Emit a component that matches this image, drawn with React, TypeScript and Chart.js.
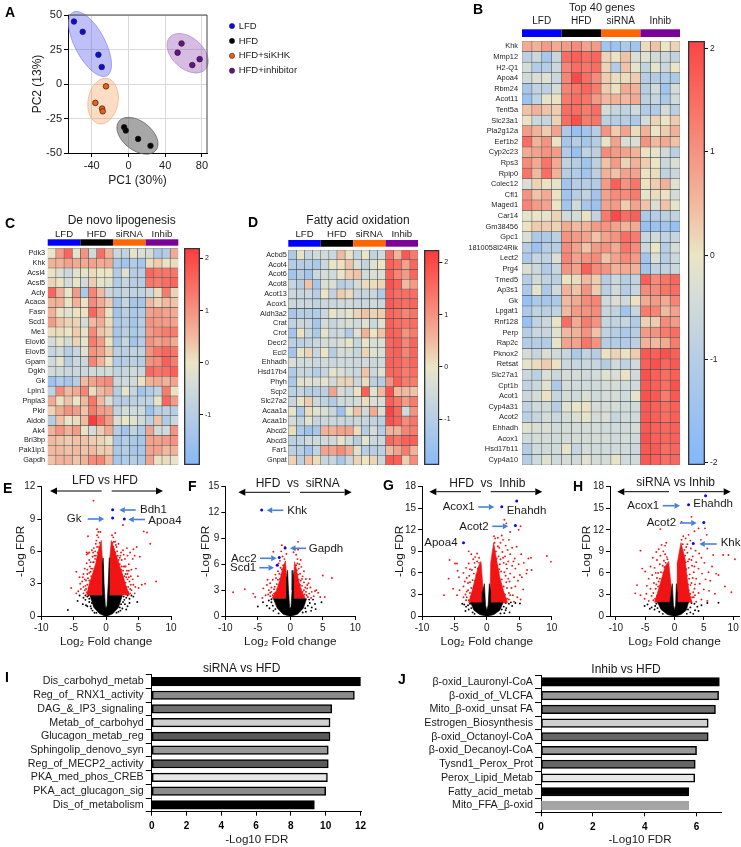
import React, { useEffect, useRef } from "react";
import { Chart, registerables } from "chart.js";

Chart.register(...registerables);

const FAMILY = '"Liberation Sans", Arial, sans-serif';
Chart.defaults.font.family = FAMILY;
Chart.defaults.color = "#1a1a1a";

/* ---------- Panel A ---------- */
const pcaNames = ["LFD", "HFD", "HFD+siKHK", "HFD+inhibitor"];
const pcaColors = ["#0a0ae6", "#000000", "#f0600f", "#6a0f8c"];
const pcaLFD = [[-59.3, 45.3], [-49.8, 37.8], [-32.7, 21.2], [-29.1, 12.3]];
const pcaHFD = [[-4.7, -31.3], [-2.9, -33.7], [10.5, -39.8], [24, -44.8]];
const pcaSi = [[-24.4, -1.7], [-36, -13.7], [-28.7, -17.8], [-28, -19.8]];
const pcaInh = [[57.8, 29.4], [53.5, 22.7], [77.5, 18], [69.5, 13.7]];
const pcaXTicks = [-40, 0, 40, 80];
const pcaYTicks = [-50, -25, 0, 25, 50];

/* ---------- Heatmaps ---------- */
const groupNames = ["LFD", "HFD", "siRNA", "Inhib"];
const groupColors = ["#0000ff", "#000000", "#ff6600", "#7a0099"];
const genesB = ["Khk", "Mmp12", "H2-Q1", "Apoa4", "Rbm24", "Acot11", "Tent5a", "Slc23a1", "Pla2g12a", "Eef1b2", "Cyp2c23", "Rps3", "Rplp0", "Colec12", "Cfl1", "Maged1", "Car14", "Gm38456", "Gpc1", "1810058I24Rik", "Lect2", "Prg4", "Tmed5", "Ap3s1", "Gk", "Lpgat1", "Rnf128", "Perp", "Rap2c", "Pknox2", "Retsat", "Slc27a1", "Cpt1b", "Acot1", "Cyp4a31", "Acot2", "Ehhadh", "Acox1", "Hsd17b11", "Cyp4a10"];
const zB = [
  [.7, .6, .9, .7, .9, 1.1, .8, .9, -1.4, -1.5, -1.2, -1.4, .1, .4, 0, .2],
  [-.9, -.6, -1.3, -.7, 1.5, 1.7, 1.5, 1.6, .2, .05, .4, -.3, -.2, -.5, -.6, -.8],
  [-.4, -1.1, -1, -.6, 1.2, 1.5, 1.4, 1.5, .2, -1.1, .4, -.1, -.8, -.1, -.6, 0],
  [-.5, -.3, -.2, -.6, 1.2, 2, 1.5, 1.1, .3, .1, .1, .3, -1, -1.1, -1.1, -1.2],
  [-1.3, -.8, -.9, -.4, 1.2, 1.4, 1.6, 1.3, .3, .05, .7, .6, -1, -.5, -1.4, -.4],
  [-1.5, -.8, -.1, .05, 1.3, 1.5, 1.4, .9, .5, .6, .5, .7, -.9, -.7, -1.2, -.5],
  [.4, .6, .4, .3, 1.5, 1.5, 1.3, 1.5, -.4, -.7, -.8, -.5, -1.1, -1.1, -.4, -.9],
  [.05, -.6, -.7, .2, 1.5, 1.9, 1.3, 1.4, -.9, -1, -1, -1.2, -.4, .2, 0, .3],
  [.9, .6, .3, .8, -1.2, -1.6, -1.4, -1, 1, .3, .8, .1, .6, 0, .3, .6],
  [1.5, .6, 1, .05, -1.3, -1, -1.3, -1, -.05, .8, -.3, -.3, 1, .5, .7, .4],
  [.7, .8, 1, .9, -1.1, -1.6, -.8, -.9, 1.1, .9, .8, .6, .05, -.1, -.5, -.9],
  [1.1, .7, 1.4, .7, -.8, -1, -1.4, -.9, .4, .9, .2, .6, .3, 0, -.6, -.3],
  [1.4, .5, 1.5, .6, -1, -1.1, -1.4, -.9, .6, .4, .8, .8, .05, .1, -.8, -.6],
  [-.3, .2, .05, -.1, -1.4, -1, -1, -1.1, .9, 1.7, 1, 1.4, .05, .3, .6, -.2],
  [1, .4, .7, .05, -1.4, -1, -.8, -1.4, .8, 1.1, 1.1, 1.3, -.1, .1, .05, -.4],
  [1.2, .9, .8, 0, -1.4, -.5, -1.3, -1.5, .8, .9, .3, .8, .4, -.3, .4, -.1],
  [-.1, -.05, -.1, .2, -.5, -.4, .05, -.8, 1.3, 2, 1.5, 1.7, -1.2, -1, -.9, -.8],
  [.05, .3, .3, .2, .7, .5, .6, .9, 1, .8, .6, .7, -1.6, -1.5, -1.4, -1.6],
  [-.3, -1.2, -1.2, -.9, 1, .9, .8, .4, .8, 1, 1.5, 1.3, -.7, -.5, -.8, -.7],
  [-1, -1.5, -1, -1, 1.1, .8, .4, .9, 1, .7, 1.4, 1.1, -.6, 0, -1, -.4],
  [-1.2, -.7, -.8, -.3, 1.2, .8, 1, 1.1, .4, .8, 1.1, .9, -1.4, -.3, -1, -.6],
  [-.3, -.6, -1.1, -.7, 1, .8, 1.7, 1.1, 1, .6, .7, .6, -1.4, -.8, -.8, -.6],
  [-1, -.5, -.8, -.9, .05, .1, .5, .3, -1, -.6, -1, -.8, 1.7, 1.1, 1.4, 1.6],
  [-1.2, -.1, -1.2, -.5, .6, .4, 1, .3, -.9, -.5, -1, -.7, 1.1, 1.1, 1.4, 1.5],
  [-1.6, -1.2, -1.3, -1.2, .5, .7, 1.1, 1.2, -.5, -.3, -.5, .05, .7, .9, .7, 1.2],
  [-1.2, -.8, -.9, -.8, .5, .9, 1, 1.1, -.7, -.8, -1.4, -.7, 1.3, 1.2, .5, .8],
  [-1.6, -.8, -.6, -.05, 1.5, .7, 1.3, 1, -.7, -.8, -.7, -1.1, .2, .3, 1.1, .9],
  [-1, -.6, -.7, -.2, .5, .6, 1, .4, -.8, -1, -1.2, -1, .9, 1, 1.3, 1.5],
  [-1.1, -1, -1.1, -.1, .8, .8, 1.4, 1, -1, -1.1, -1.1, -.9, .6, .5, .7, 1.3],
  [-.4, -.7, -.3, -.5, -.7, -1.2, -.8, -1, .05, .2, .05, .3, 1.8, 1.7, 1.9, 1.7],
  [-.1, .1, .3, .05, -.6, -.7, -.6, -.7, -1, -.5, -.8, -.5, 1.7, 1.9, 1.6, 1.8],
  [-.6, -.9, -.3, -.6, -.4, -.4, -.5, -.4, -.2, -.3, .05, -.5, 1.9, 1.7, 1.5, 1.7],
  [-.8, -.6, -.2, -1.2, -.4, -.5, -.5, -.5, -.4, -.4, -.5, -.5, 1.8, 1.7, 1.5, 1.9],
  [-.6, -.4, .05, -.7, -.4, -.5, -.3, -.5, -.4, -.4, -.5, -.1, 1.9, 1.8, 1.3, 1.8],
  [-.8, -.5, -.5, -1, -.2, -.05, .05, -.4, -.4, -.4, -.5, -.5, 1.8, 1.7, 1.5, 1.7],
  [-.9, -.7, -.4, -.6, -.4, -.3, -.1, -.4, -.3, -.7, -.5, -.5, 1.8, 1.7, 1.5, 1.7],
  [-.2, -.3, -.3, -.5, -.4, -.4, -.4, -.4, -.5, -.5, -.5, -.4, 1.8, 1.7, 1.6, 1.7],
  [-.5, -.4, -.4, -.5, -.4, -.4, -.4, -.4, -.4, -.5, -.4, -.5, 1.9, 1.7, 1.6, 1.7],
  [-1, -.5, -.5, -.5, -.1, -.7, -.4, -.5, -.5, -.5, -.5, -.6, 1.8, 1.8, 1.5, 1.6],
  [-1, -.5, -.2, -.5, -.4, -.5, -.2, -.4, -.4, -.1, -.5, -.5, 1.8, 1.7, 1.5, 1.6],
];
const genesC = ["Pdk3", "Khk", "Acsl4", "Acsl5", "Acly", "Acaca", "Fasn", "Scd1", "Me1", "Elovl6", "Elovl5", "Gpam", "Dgkh", "Gk", "Lpin1", "Pnpla3", "Pklr", "Aldob", "Ak4", "Bri3bp", "Pak1ip1", "Gapdh"];
const zC = [
  [0, .9, 1.6, -.1, 1, -.5, 1.5, .6, -.6, -.8, -.1, -.3, -.4, -1.2, -1.1, .7],
  [.6, .6, .8, .7, .7, .8, .7, .7, -1.2, -1.4, -1.1, -1.3, .1, .3, .05, .1],
  [.05, -.3, -.6, -.2, -.1, .1, 0, 0, -1.1, -.2, -1, -1, 1.6, 1.4, 1.4, 1.4],
  [.2, .05, -.4, -.05, -.5, .3, -.1, -.2, -1.1, -.7, -1, -1, 1.4, 1.3, 1.5, 1.6],
  [1.6, .6, 0, .9, -1.2, 1.2, .5, -.6, -.9, -.7, -.8, -.8, -.6, .1, 1.3, .2],
  [.6, .6, .05, .6, .05, 1.1, .7, .3, -1.3, -.7, -1.3, -1.3, .5, .2, .5, .4],
  [.6, .05, -.2, .05, .05, 1.6, .9, .05, -1.4, -.9, -1.2, -1.1, .8, .9, .8, .7],
  [.9, .4, .2, .2, -.4, .5, .7, .1, -1.2, -1, -1.3, -1, 1, .9, .9, .8],
  [.1, .1, 0, .3, -.1, 1.1, .4, .2, -1.3, -.9, -1.2, -1, .9, 1.1, 1.3, 1.3],
  [-.4, -.1, -.4, .2, -.1, 1.3, .9, .05, -1.3, -.7, -1.4, -1, 1, .8, 1, .7],
  [-.7, -.5, -1, -.7, -.2, 1, .8, .3, -.9, -.9, -.8, -.8, 1, 1.4, 1.6, 1.4],
  [-.5, -.1, -1, -.6, -.6, 1.2, .6, .05, -1.1, -1, -.9, -1, 1, 1.1, 1.7, 1.3],
  [-.5, -.5, -.6, -.6, -.6, -.5, -.5, -.4, -.8, -.7, -.5, -.6, 1.6, 1.4, 1.5, 1.7],
  [-1.5, -1.1, -1.3, -1, .5, .8, 1, 1.1, -.6, -.5, -.5, .05, .6, .7, .6, .8],
  [-.8, 1.1, .5, .7, 1.2, .1, .5, .7, -1, -.05, -.7, -1.4, -1.1, -.8, 1.3, .05],
  [.7, .05, .4, 0, .5, 1.4, .5, -.3, -1, -1, -.9, -.8, -.8, -.05, 1.6, .9],
  [.2, .7, 1, .9, .4, 1.3, .9, .8, -.8, -.4, -.5, -.5, -1.5, -.9, -.9, -1],
  [-1, .4, 0, .1, .5, 2.2, 1.5, .9, -.3, 0, -.2, -.5, -.9, .4, -1.1, -.6],
  [.6, 1, .6, .9, .05, -.4, .3, .7, -1, -1.4, -.8, -1.1, .8, -.5, -.5, 1],
  [.5, .4, .3, .4, .4, .3, .2, .05, -1.3, -1, -1.2, -1.3, .8, .8, .9, 1],
  [.5, .5, .4, .5, .4, .5, .3, .3, -1.2, -1, -1.3, -1.3, .8, .8, .5, .6],
  [.4, .6, .6, .4, .6, 1.1, 1.2, .5, -1.3, -1.1, -1, -1.2, .8, .05, .1, -.1],
];
const genesD = ["Acbd5", "Acot4", "Acot6", "Acot8", "Acot13", "Acox1", "Aldh3a2", "Crat", "Crot", "Decr2", "Eci2", "Ehhadh", "Hsd17b4", "Phyh", "Scp2", "Slc27a2", "Acaa1a", "Acaa1b", "Abcd2", "Abcd3", "Far1", "Gnpat"];
const zD = [
  [-1.2, -.1, -.7, -.5, -.5, -.6, .5, .05, -.7, 0, -.8, -.5, 1.5, .6, 1.8, 1.3],
  [-1, -1, -1, -1.2, -.6, 0, .05, .4, -.3, -.8, -.2, 0, 1.7, 1.5, .8, 1.6],
  [-1.4, -1, -1.4, -.6, -.4, -.5, 0, .3, .4, -.5, -.3, -.3, 1.7, 1.2, .9, 1.6],
  [-.7, -1, .4, -1.3, -.3, -.3, -1, -.8, -.4, .1, .1, .2, 1.9, 1.7, .5, .9],
  [-.6, -.7, -.6, -1, 0, -.8, .3, .1, -.7, -.7, -.6, -1.1, 1.7, 1.5, 1.5, 1.5],
  [-.6, -.6, -.6, -.8, -.6, -.6, -.5, -.5, -.6, -.6, -.5, -.6, 1.8, 1.6, 1.5, 1.6],
  [-1.3, -1, -1, -1.1, -.6, 0, -.3, -.1, .2, .4, .2, .3, 1.6, 1.5, 1.2, 1.4],
  [-.8, -.6, -.7, -1.3, -.4, -.7, -.4, -.3, -.5, -.2, -.6, -.2, 1.7, 1.5, 1.4, 1.5],
  [-1.4, .05, -.7, -1.2, -.1, -.6, -.5, -1.1, -.2, .6, 0, .4, 1.7, 1.6, 1, 1.3],
  [-.9, -.9, -.8, -.6, -.4, -.5, -.3, -.05, -.7, -.05, -.3, -.3, 1.6, 1.7, 1.2, 1.6],
  [-1.4, -.1, .2, -.7, 0, -1, -.4, -.4, -.7, .2, -.2, -.3, 1.6, 1.7, 1.2, 1.6],
  [-.3, -.5, -.5, -.6, -.5, -.6, -.5, -.5, -.6, -.5, -.6, -.5, 1.7, 1.6, 1.4, 1.6],
  [-1.1, -.7, -.7, -1, -.7, -.1, -.3, -.5, -.6, .4, -.6, -.2, 1.6, 1.6, 1.3, 1.5],
  [-1.2, -.2, -.2, -.3, -.1, -.5, .2, .2, -.6, .1, -.9, -1, 1, 1.7, 1.3, 1.3],
  [-.9, -.7, -1, -1, -.9, .8, -.4, -.6, .05, 1.7, -.2, .5, 1.9, .5, .5, .4],
  [-.7, -.1, .3, -.6, -.8, -1.1, -.5, -.5, -.4, .1, -.3, -.3, 1.7, 1.4, .9, 1.3],
  [-.1, -1.2, .1, -.2, -.3, -.6, -1.5, -.1, .4, -.5, .7, -.3, 2.1, 1.6, -.5, 1],
  [-.4, -.8, -.2, -.7, -.6, -.6, -.6, -.7, -.6, -.7, -.8, -.9, 1.9, 1.7, 1.1, 1.4],
  [.1, -1.2, -1.5, -1.3, .6, .6, .8, .8, .1, -1, -.4, -1, .6, .6, 1.2, 1.3],
  [-.9, -.8, -.5, -.5, -.5, -.5, -.1, -.5, -1, -.1, -.6, -.6, 1.6, 1.4, 1.7, 1.7],
  [-.9, -1, -1.4, -.8, .8, .8, 1.1, .7, -.2, -1, -1, -.9, .5, .8, 1.3, .6],
  [.2, -.9, .4, .1, -.7, -.7, -1.3, -.6, .2, 0, .2, -.6, 1.8, 1.7, .3, 1.1],
];

/* ---------- Volcano plots ---------- */
const volXTicks = [-10, -5, 0, 5, 10];
const yTicksE = [0, 3, 6, 9, 12];
const yTicksF = [0, 3, 6, 9, 12, 15];
const yTicksG = [0, 3, 6, 9, 12, 15, 18];

const armsE = [
  [[-.55, 1.95], [-3, 1.95], [-2.6, 3], [-2.1, 3.9], [-1.6, 4.9], [-1.15, 6.2], [-.75, 7], [-.55, 5]],
  [[.5, 1.95], [3.6, 1.95], [3, 2.9], [2.5, 3.9], [1.9, 5], [1.3, 6.1], [.8, 7], [.5, 5]],
];
const coreE = [
  [[-.2, 0], [.2, 0], [1, .2], [1.9, .8], [2.5, 1.9], [.5, 1.9], [.56, 4.8], [.44, 5.4], [.32, 3], [.12, .9], [0, .6], [-.12, .9], [-.32, 3], [-.46, 5.4], [-.58, 4.8], [-.5, 1.9], [-2.5, 1.9], [-1.9, .8], [-1, .2]],
];
const redE = [[-1.95, 10.7], [-1.4, 8.05], [-1.2, 7.8], [-2.8, 7.4], [2.6, 8.45], [1.4, 7.7], [6.3, 7.75], [5.8, 7.85], [6.8, 6.7], [4.7, 6.4], [4.2, 6.2], [3.2, 6.3], [7.7, 3.2], [6, 3], [5.5, 2.9], [5, 2.6], [4.5, 2.7], [-5.4, 2.6], [-4.6, 4.1], [-3, 5.9], [-2.6, 5.9],
  [1.2, 6.9], [1.6, 6.4], [1.9, 6.7], [2.3, 5.9], [2.6, 6.1], [1.1, 7.3], [.9, 7.5], [1.8, 5.6], [2.9, 5.3], [3.3, 5.6], [3.7, 5.9], [4.1, 5.3], [4.4, 5.6], [3.5, 4.8], [2.9, 4.6], [3.9, 4.3], [4.6, 4.4], [3.3, 3.9], [4.1, 3.4], [3.6, 3.2], [4.9, 3.7], [3.1, 3.6], [3.9, 2.4], [3.4, 2.2], [4.4, 2.1], [2.7, 4.6], [2.4, 5.2], [2.1, 5.4], [3, 3.9], [5.2, 5.5], [1.4, 6.9], [3.8, 2.9], [4.2, 2.9], [3.7, 2.1], [3.5, 3.6], [2.7, 5.7],
  [-1.4, 7.5], [-1.2, 7.3], [-.9, 7.8], [-1.6, 6.7], [-1.9, 6.3], [-1.5, 7], [-2.1, 5.5], [-2.4, 5], [-2.8, 5.8], [-2.6, 5.2], [-3, 4.9], [-3.3, 4.4], [-3.5, 3.9], [-2.9, 4.3], [-3.7, 3.2], [-4, 3], [-3.9, 2.5], [-4.3, 2.3], [-3.3, 2.4], [-3.6, 3.6], [-2.3, 4.4], [-1.8, 5.6], [-2, 5.9], [-4.1, 3.6], [-3.1, 3.3], [-2.6, 4], [-4.6, 2.1], [-3, 5.7], [-3.2, 2.8], [-3.5, 2.1], [-2.2, 6.1], [-1.7, 6],
  [2.2, 3.4], [2.5, 3.1], [2.9, 2.6], [3.2, 2.3], [2.7, 3.3], [2.4, 3.8], [2, 4.4], [2.3, 4.3], [1.8, 4.9], [2.1, 4.8], [1.6, 5.5], [1.9, 5.2], [1.4, 5.9], [1.7, 6], [1.2, 6.2], [3.4, 2.7], [3.7, 2.5], [3, 3.1], [2.8, 3.7], [2.6, 4.2], [3.2, 4.2], [3.5, 4.2], [2.2, 5.6], [1.5, 6.6], [2.9, 2.1], [3.3, 3.4], [3.8, 3.7], [2.5, 2.6], [1.9, 3.6], [1.6, 4.4], [1.4, 5.3], [2.2, 3], [2.7, 2.4], [3.1, 2.7], [2.4, 4.6], [2, 3.9], [1.7, 5], [1.3, 5.6], [1, 6.8], [1.1, 6.4], [3, 4.6], [2.6, 3.5],
  [-2.4, 3.2], [-2, 3.4], [-2.7, 2.6], [-3, 2.2], [-1.8, 4.2], [-2.1, 4.4], [-1.6, 4.6], [-1.9, 5], [-1.4, 5.2], [-1.6, 5.6], [-1.3, 5.9], [-1.1, 6.4], [-1.4, 6.4], [-2.3, 3.7], [-2.6, 3.3], [-2.9, 2.9], [-2.8, 3.5], [-3.1, 2.5], [-2.5, 2.4], [-1.9, 3], [-2.2, 2.6], [-1.7, 3.5], [-1.5, 4.1], [-2.4, 4.1], [-2.9, 3.9], [-3.3, 3.4], [-3.5, 2.7], [-2, 5], [-1.7, 5.3], [-1.2, 5.5], [-1, 6.8], [-2.5, 4.6]];
const blackE = [[-2.9, 1.8], [-3.2, 1.5], [-2.6, 1.6], [-3.6, 1.1], [-4.4, 1.4], [-4.1, 1.9], [-5.9, .55], [3.1, 1.7], [3.6, 1.2], [4.2, 1.8], [3.6, 1.6], [2.8, 1.5], [3.3, .9], [2.5, .7], [-2.4, .9], [-2.9, .9], [-2.1, .5], [-3.1, 1], [-1.8, .3], [1.9, .4], [2.2, .5], [3.1, .6], [2.9, 1.1], [-3.5, 1.7], [4.8, 1.3], [3.9, 1.9], [2.3, 1.1], [2.6, 1.3], [2.7, 1.8], [-2.2, 1.2], [-2.6, 1.3], [-2.7, 1.9], [-2.3, .7], [2.1, .8], [1.6, .3], [-1.5, .3], [3.3, 1.9], [-3.2, 1.9]];
const blueE = [[1, 9.85], [1, 9.1], [2.8, 9]];

const armsF = [
  [[-.55, 2.05], [-2.8, 2.05], [-2.1, 3], [-1.6, 4.2], [-1.15, 5.6], [-.75, 6.4], [-.5, 4]],
  [[.55, 2.05], [2.3, 2.05], [1.7, 3], [1.25, 4.2], [.9, 5.6], [.65, 6.3], [.5, 4]],
];
const coreF = [
  [[-.2, 0], [.2, 0], [1.1, .2], [2, .9], [2.5, 2], [.55, 2], [.5, 4.5], [.4, 5.3], [.28, 3], [.1, 1], [0, .7], [-.1, 1], [-.28, 3], [-.42, 5.3], [-.52, 4.5], [-.55, 2], [-2.6, 2], [-2, .9], [-1.1, .2]],
];
const redF = [[-8.8, 2.75], [-7, 3.1], [-5.7, 2.6], [-5.4, 2.2], [-4.15, 3.2], [-3.6, 3.6], [-2.6, 7.46], [-1.3, 8.2], [-.8, 8], [1.2, 8.6], [.5, 7.4], [5, 4.7], [6.4, 4.4], [4, 3], [4.6, 2.2], [5.3, 2.2], [-.6, 7.2], [-1.4, 7.5], [-1.2, 6.9], [-1.9, 5.2], [-2.3, 4.8], [-2.7, 4.2], [-3.1, 3.8], [-3.3, 3], [-3.8, 2.4], [-4.3, 2.1], [-3.4, 2.5], [-2.9, 3.3], [-1.8, 6.1], [-1.5, 5.6], [-2.1, 5.9],
  [.9, 7.1], [1.1, 6.6], [1.4, 6], [1.7, 5.7], [1.2, 7.7], [.8, 7.8], [2.1, 5.2], [1.9, 4.6], [2.4, 4.3], [2.1, 3.9], [2.8, 3.8], [3.1, 3.3], [2.6, 3.2], [3.3, 2.8], [2.9, 2.6], [3.6, 2.3], [3.8, 2.9], [2.5, 2.4], [3.2, 2.1], [4.3, 2.7], [3, 4.3], [2.3, 3.3], [1.6, 6.5], [-3.5, 4.2], [-2.4, 3.4], [-2.5, 2.6], [-3.1, 2.3],
  [-2, 3.1], [-2.3, 2.7], [-2.7, 2.4], [-1.8, 3.6], [-2.1, 3.7], [-1.6, 4.3], [-1.9, 4.2], [-1.4, 4.8], [-1.7, 4.9], [-1.3, 5.4], [-1.1, 5.9], [-2.5, 3.1], [-2.9, 2.8], [-3.1, 2.7], [-2.2, 4.4], [-.9, 6.6], [-1.6, 6.4],
  [1.6, 3.1], [1.9, 2.8], [2.2, 2.5], [1.5, 3.6], [1.8, 3.5], [1.3, 4.2], [1.6, 4.1], [1.2, 4.8], [1.5, 4.9], [1, 5.3], [1.3, 5.5], [.9, 5.9], [2.1, 3], [2.4, 2.8], [2, 2.3], [2.7, 2.2], [1.8, 4.3], [2.6, 3.6], [1.1, 6.1]];
const blackF = [[-5, 1.1], [-3.6, 1.2], [-2.1, 1.5], [3.5, 1.9], [3, 1.5], [3.8, 1.4], [4.8, 1.6], [-3.2, .9], [-2.9, 1.6], [-3.3, 1.8], [3.3, 1], [3.9, .8], [-2.6, .6], [-4.2, 1.6], [2.4, .5], [-1.8, .3], [1.9, .4], [3.2, .6], [2.7, 1.2], [2.9, 1.9], [-2.7, 1.2], [-2.9, 1.95], [2.3, .9], [-2.3, .8]];
const blueF = [[-4.4, 12.3], [-.8, 7.9], [-1.7, 6.8], [-2, 5.9]];

const armsG = [
  [[-.7, 1.85], [-2.8, 1.85], [-2.3, 3.4], [-1.8, 5.2], [-1.35, 6.8], [-.9, 7.6], [-.6, 4]],
  [[.45, 1.85], [3.2, 1.85], [2.6, 3.4], [2, 5.4], [1.55, 7.6], [1.05, 10.2], [.6, 7.5]],
];
const coreG = [
  [[-.2, 0], [.2, 0], [1.1, .2], [2, .8], [2.5, 1.85], [.5, 1.85], [.58, 3.4], [.38, 4.5], [.2, 1.5], [0, .8], [-.2, 1.5], [-.38, 4.5], [-.62, 3.4], [-.7, 1.85], [-2.5, 1.85], [-2, .8], [-1.1, .2]],
];
const redG = [[-5.75, 7.8], [-4.9, 7.3], [-4.6, 7.3], [-5.9, 5.2], [-6.6, 2.9], [9.25, 8.35], [9.9, 7.56], [6.4, 8], [6.9, 6.4], [6.2, 6.4], [5.1, 5.7], [4.1, 7.6], [4.6, 9.65], [4.9, 12], [5.2, 12.5], [3.6, 11.7], [2.7, 13.4], [3, 12.9], [1.3, 10.8], [-2.8, 9], [-1.5, 8.7], [-1.8, 8.2], [-2.4, 8.6], [-1.2, 8.1], [-2.1, 7.9], [-2.8, 7.3], [-3.2, 6.7], [-2.6, 6.5], [-3.6, 6], [-4.3, 5.4], [-3.1, 5.3], [-2.9, 4.6], [-3.6, 4.1], [-4.2, 3.6], [-3.1, 3.4], [-3.6, 2.6], [-4.6, 2.9], [-3.2, 2.2], [-5.2, 3.8], [-4.5, 6.3],
  [1.1, 11.1], [1.7, 10.9], [2.1, 10.2], [1.9, 9.5], [2.5, 10.6], [2.9, 9.8], [2.4, 8.9], [3.2, 9.2], [2.8, 8.3], [3.6, 8.6], [3.3, 7.6], [2.6, 7.4], [3.9, 7], [3.1, 6.6], [4.4, 6.6], [4.9, 7.2], [4.3, 8], [5.3, 8.6], [5.7, 7.4], [3.6, 5.9], [2.9, 5.6], [4.2, 5.4], [4.8, 4.9], [3.5, 4.8], [5.4, 5.4], [3.8, 3.9], [4.4, 4.1], [3.1, 3.9], [5.6, 3.7], [4, 2.9], [4.7, 2.6], [3.4, 2.3], [4.2, 2], [5.2, 2.3], [6.1, 5.9], [2.3, 11.2], [3.4, 10.6], [3.9, 9.5], [2.1, 7.9], [6.8, 8.1], [1.9, 6.5],
  [-2.2, 3.2], [-2.5, 2.7], [-2.8, 2.2], [-2, 4.1], [-2.4, 3.9], [-1.8, 4.9], [-2.2, 5], [-1.6, 5.7], [-2, 5.9], [-1.4, 6.6], [-1.8, 6.8], [-1.2, 7.4], [-1.5, 7.6], [-2.6, 4.7], [-2.9, 3.6], [-3.3, 3], [-2.7, 5.6], [-2.3, 6.4], [-2.6, 3.2], [-3.1, 2.6], [-1.7, 3.7], [-1.4, 4.4], [-2.1, 2.6], [-1.1, 6.9], [-3.4, 4.8], [-1.9, 7.4],
  [2.4, 3.4], [2.8, 3], [3.1, 2.4], [2.2, 4.2], [2.6, 4.1], [1.9, 5.2], [2.3, 5.1], [1.8, 6.1], [2.2, 6.2], [1.6, 7], [2, 7.2], [1.5, 8], [1.8, 8.3], [1.4, 9], [1.7, 9.7], [1.2, 10.2], [3, 4.7], [2.7, 6.1], [3.4, 3.2], [3.6, 2.9], [2.5, 2.5], [2.2, 3], [1.8, 4.4], [1.5, 6], [1.4, 7.6], [3, 7.2], [2.5, 8.1], [3.3, 5.2]];
const blackG = [[-3.5, 1.6], [-3.2, 1.3], [-2.8, .9], [-3.3, .7], [-2.2, .5], [3.4, 1.7], [3.9, 1.4], [4.4, 1.8], [5.1, 1.75], [3, 1.1], [3.5, .5], [2.7, .4], [-3.8, 1.7], [-1.9, .3], [2.1, .35], [2.9, .8], [3.7, 1.9], [-2.6, 1.7], [2.6, 1.3], [2.9, 1.8], [-2.4, 1.1], [-2.9, 1.5], [2.3, .9]];
const blueG = [[2.3, 15.2], [4.6, 16], [4.4, 12.6], [-3.6, 10.2]];

const armsH = [
  [[-.8, 1.9], [-3.4, 1.9], [-2.9, 3.2], [-2.2, 5.2], [-1.6, 6.9], [-1, 7.6], [-.55, 4]],
  [[.5, 1.9], [3, 1.9], [2.5, 3.3], [2.1, 5.6], [1.8, 8], [1.1, 10.2], [.5, 7.5]],
];
const coreH = [
  [[-.2, 0], [.2, 0], [1.1, .2], [2, .8], [2.4, 1.9], [.5, 1.9], [.48, 3.2], [.32, 4.5], [.18, 1.5], [0, .8], [-.18, 1.5], [-.38, 4.5], [-.6, 3.2], [-.8, 1.9], [-2.9, 1.9], [-2.3, .9], [-1.2, .2]],
];
const redH = [[-5.8, 9.1], [-6.4, 4.3], [-6.7, 3.15], [-5.8, 2.9], [-5.5, 6.6], [-5, 6.2], [8.3, 8.5], [9.2, 8.5], [10.3, 7.9], [8.6, 4.1], [9.7, 3.3], [7.5, 5.7], [6.6, 8.5], [5.5, 11.3], [5.2, 12.2], [2.9, 13.8], [1.2, 13.1], [-2.4, 12.1], [-1.4, 10.2], [-1.6, 9.8], [-2.2, 9.9], [-2.7, 9.3], [-1.9, 9], [-3.1, 8.9], [-2.4, 8.4], [-3.7, 8.1], [-3, 7.8], [-2.5, 7.2], [-3.4, 6.7], [-4.1, 6.9], [-3.8, 5.7], [-4.4, 5.2], [-3, 5.3], [-3.5, 4.6], [-4.7, 4.2], [-4.1, 3.8], [-3.9, 2.8], [-4.8, 3.1], [-3.6, 2.2], [-5.1, 2.4], [-4.4, 2.1],
  [1.5, 11.1], [1.9, 10.8], [2.4, 11.3], [2.7, 10.5], [3.4, 11.8], [2.2, 10], [2.8, 9.4], [3.6, 9.1], [3.1, 8.3], [4.2, 8.7], [2.5, 7.9], [3.7, 7.5], [4.6, 8.1], [3, 7], [5.1, 7.4], [4.1, 6.6], [3.3, 6.1], [2.6, 5.8], [4.7, 5.9], [5.8, 6.1], [3.7, 5.2], [5.3, 5.1], [2.9, 4.6], [4.3, 4.5], [6.1, 4.9], [3.4, 3.8], [5, 3.7], [4.1, 3.2], [5.9, 3.5], [3.3, 2.6], [4.6, 2.3], [5.6, 2.1], [3.7, 2], [6.9, 3.1], [7.1, 5.9], [6.4, 6.9], [4.5, 10.6], [4.1, 12.2], [5.6, 9.4],
  [-2.7, 3.3], [-3, 2.8], [-3.3, 2.4], [-2.4, 4.2], [-2.8, 4.1], [-2.1, 5.1], [-2.5, 5.2], [-1.9, 6], [-2.3, 6.1], [-1.7, 6.8], [-2, 7], [-1.5, 7.4], [-1.8, 7.7], [-1.3, 8.2], [-1.6, 8.6], [-3.2, 3.8], [-3.6, 3.2], [-2.7, 4.8], [-3.1, 4.4], [-2.8, 6], [-3.2, 6], [-1.2, 7.9],
  [2.4, 3.6], [2.7, 3.1], [3, 2.6], [2.3, 4.4], [2.7, 4.3], [2.1, 5.6], [2.5, 5.2], [2, 6.5], [2.4, 6.7], [1.9, 7.5], [2.3, 7.6], [1.8, 8.4], [2.2, 8.8], [1.7, 9.2], [2, 9.6], [1.4, 10], [1.2, 10.6], [3.2, 3.3], [3.5, 2.9], [3.1, 5.3], [3.5, 4.4], [2.9, 7.8], [3.4, 6.9]];
const blackH = [[7.5, 1.85], [-4.6, 1.6], [-3.9, 1.2], [-3.4, .9], [-4.2, 1], [-2.6, .6], [-3.1, 1.7], [3.4, 1.7], [3.9, 1.3], [4.6, 1.5], [3.5, .8], [3.2, .3], [2.7, .5], [-2, .3], [2.1, .3], [5.6, 1.8], [-5.1, 1.4], [4.1, .7], [2.7, 1.2], [2.9, 1.8], [-3.3, 1.4], [-2.9, 1.1], [2.3, .9]];
const blueH = [[2.4, 15.5], [5.3, 16.75], [5, 13], [3.2, 10.1]];

/* ---------- Bars ---------- */
const catsI = ["Dis_carbohyd_metab", "Reg_of_ RNX1_activity", "DAG_&_IP3_signaling", "Metab_of_carbohyd", "Glucagon_metab_reg", "Sphingolip_denovo_syn", "Reg_of_MECP2_activity", "PKA_med_phos_CREB", "PKA_act_glucagon_sig", "Dis_of_metabolism"];
const valsI = [12, 11.65, 10.35, 10.25, 10.25, 10.15, 10.15, 10.1, 10, 9.35];
const fillsI = ["#000000", "#8c8c8c", "#707070", "#d0d0d0", "#5a5a5a", "#999999", "#5a5a5a", "#e6e6e6", "#8c8c8c", "#000000"];
const edgesI = ["#000", "#000", "#000", "#000", "#000", "#000", "#000", "#000", "#000", "#000"];
const ticksI = [0, 2, 4, 6, 8, 10, 12];
const catsJ = ["β-oxid_Lauronyl-CoA", "β-oxid_of_VLCFA", "Mito_β-oxid_unsat FA", "Estrogen_Biosynthesis", "β-oxid_Octanoyl-CoA", "β-oxid_Decanoyl-CoA", "Tysnd1_Perox_Prot", "Perox_Lipid_Metab", "Fatty_acid_metab", "Mito_FFA_β-oxid"];
const valsJ = [6.88, 6.85, 6.73, 6.45, 6.45, 6, 5.95, 5.93, 5.7, 5.7];
const fillsJ = ["#000000", "#999999", "#707070", "#d0d0d0", "#666666", "#999999", "#666666", "#e8e8e8", "#000000", "#a5a5a5"];
const edgesJ = ["#000", "#000", "#000", "#000", "#000", "#000", "#000", "#000", "#000", "#a5a5a5"];
const ticksJ = [0, 2, 4, 6];

/* ---------- Colour map ---------- */
const stops: [number, number[]][] = [
  [-2.1, [127, 181, 251]], [-1, [183, 205, 228]], [-.4, [213, 220, 216]], [0, [235, 229, 198]],
  [.5, [241, 185, 159]], [1, [245, 147, 129]], [1.5, [249, 109, 98]], [2.2, [251, 60, 62]],
];
function heatColor(z: number) {
  for (let i = 1; i < stops.length; i++) {
    if (z <= stops[i][0]) {
      const [a, ca] = stops[i - 1], [b, cb] = stops[i];
      const t = Math.max(0, (z - a) / (b - a));
      return `rgb(${ca.map((c, k) => Math.round(c + (cb[k] - c) * t)).join(",")})`;
    }
  }
  return "rgb(251,60,62)";
}

/* ---------- Helpers ---------- */
type Box = { l: number; t: number; r: number; b: number };
type TextItem = { s: string; x: number; y: number; size?: number; align?: CanvasTextAlign; weight?: string };
type ArrowItem = { x1: number; y1: number; x2: number; y2: number; black?: boolean };

function overlay(cv: Box, texts: TextItem[] = [], arrows: ArrowItem[] = [], extra?: (c: any) => void) {
  return {
    id: "overlay",
    afterDraw(chart: any) {
      const ctx = chart.ctx;
      ctx.save();
      if (extra) extra(chart);
      ctx.translate(-cv.l, -cv.t);
      for (const a of arrows) {
        const col = a.black ? "#000" : "#4a80d4";
        const hl = a.black ? 7 : 5.5, hw = a.black ? 3.5 : 3;
        const dir = a.x2 > a.x1 ? 1 : -1;
        ctx.strokeStyle = col; ctx.fillStyle = col;
        ctx.lineWidth = a.black ? 1 : 1.6;
        ctx.beginPath(); ctx.moveTo(a.x1, a.y1); ctx.lineTo(a.x2 - dir * hl, a.y2); ctx.stroke();
        ctx.beginPath(); ctx.moveTo(a.x2, a.y2); ctx.lineTo(a.x2 - dir * hl, a.y2 - hw); ctx.lineTo(a.x2 - dir * hl, a.y2 + hw); ctx.closePath(); ctx.fill();
      }
      ctx.fillStyle = "#1a1a1a";
      ctx.textBaseline = "middle";
      for (const t of texts) {
        ctx.font = `${t.weight || "normal"} ${t.size || 12}px ${FAMILY}`;
        ctx.textAlign = t.align || "left";
        ctx.fillText(t.s, t.x, t.y);
      }
      ctx.restore();
    },
  };
}

function fixedAxis(size: number, horizontal: boolean) {
  return (s: any) => {
    if (horizontal) s.height = size; else s.width = size;
    s.paddingLeft = s.paddingRight = s.paddingTop = s.paddingBottom = 0;
  };
}

function frame(plot: Box, cv: Box, xCy?: number, xLh = 0, yCx?: number, yLh = 0) {
  const xEdge = xCy !== undefined ? xCy + xLh / 2 : cv.b;
  const yEdge = yCx !== undefined ? yCx - yLh / 2 : cv.l;
  return {
    padding: { left: yEdge - cv.l, top: plot.t - cv.t, right: cv.r - plot.r, bottom: cv.b - xEdge },
    xSize: xEdge - plot.b,
    ySize: plot.l - yEdge,
  };
}

function Canvas({ box, make }: { box: Box; make: () => any }) {
  const ref = useRef<HTMLCanvasElement>(null);
  useEffect(() => {
    const chart = new Chart(ref.current as HTMLCanvasElement, make());
    return () => chart.destroy();
  }, []);
  return (
    <canvas
      ref={ref}
      width={box.r - box.l}
      height={box.b - box.t}
      style={{ position: "absolute", left: box.l, top: box.t, width: box.r - box.l, height: box.b - box.t, display: "block" }}
    />
  );
}

const baseOpts = { animation: false as const, responsive: false, devicePixelRatio: 1, plugins: { legend: { display: false }, tooltip: { enabled: false }, title: { display: false } } };

/* ---------- Panel A ---------- */
const ellipses = [
  { cx: -41.8, cy: 29, a: 36, b: 15, rot: 62, fill: "rgba(90,90,240,.38)", line: "#8c8cf2" },
  { cx: -27.6, cy: -12.4, a: 23, b: 15, rot: -80, fill: "rgba(245,150,80,.33)", line: "#f4b285" },
  { cx: 9.8, cy: -37.5, a: 23.5, b: 14.5, rot: 38, fill: "rgba(80,80,80,.5)", line: "#666666" },
  { cx: 64.4, cy: 22.3, a: 24, b: 15.5, rot: 42, fill: "rgba(140,70,175,.36)", line: "#b48fd0" },
];
const boxA: Box = { l: 0, t: 0, r: 330, b: 195 };
function makeA() {
  const plot = { l: 68, t: 15, r: 207, b: 153 };
  const f = frame(plot, boxA, 180.3, 14.4, 37.7, 14.4);
  const axisCommon = { grid: { color: "#d9d9d9", tickColor: "#000", tickLength: 4 }, border: { color: "#000", width: 1 } };
  const series = [pcaLFD, pcaHFD, pcaSi, pcaInh];
  return {
    type: "scatter",
    data: {
      datasets: series.map((s, i) => ({
        label: pcaNames[i],
        data: s.map(([x, y]) => ({ x, y })),
        backgroundColor: pcaColors[i], borderColor: "#222", borderWidth: .7, pointRadius: 2.8,
      })),
    },
    options: {
      ...baseOpts,
      layout: { padding: f.padding },
      scales: {
        x: {
          ...axisCommon, min: -65.8, max: 85.5, afterFit: fixedAxis(f.xSize, true),
          afterBuildTicks: (s: any) => { s.ticks = pcaXTicks.map((value) => ({ value })); },
          ticks: { font: { size: 11 }, maxRotation: 0, autoSkip: false, padding: 2 },
          title: { display: true, text: "PC1 (30%)", font: { size: 12 }, padding: 0 },
        },
        y: {
          ...axisCommon, min: -50, max: 50, afterFit: fixedAxis(f.ySize, false),
          afterBuildTicks: (s: any) => { s.ticks = pcaYTicks.map((value) => ({ value })); },
          ticks: { font: { size: 11 }, autoSkip: false, padding: 2 },
          title: { display: true, text: "PC2 (13%)", font: { size: 12 }, padding: 0 },
        },
      },
    },
    plugins: [
      {
        id: "ellipses",
        beforeDatasetsDraw(chart: any) {
          const { ctx, scales } = chart;
          ctx.save();
          for (const e of ellipses) {
            ctx.beginPath();
            ctx.ellipse(scales.x.getPixelForValue(e.cx), scales.y.getPixelForValue(e.cy), e.a, e.b, (e.rot * Math.PI) / 180, 0, 2 * Math.PI);
            ctx.fillStyle = e.fill; ctx.fill();
            ctx.strokeStyle = e.line; ctx.lineWidth = .8; ctx.stroke();
          }
          ctx.restore();
        },
      },
      overlay(boxA, pcaNames.map((s, i) => ({ s, x: 238.7, y: 26 + i * 14.9, size: 9.5 })), [], (chart: any) => {
        const { ctx, chartArea: a } = chart;
        ctx.strokeStyle = "#444"; ctx.lineWidth = 1;
        ctx.beginPath(); ctx.moveTo(a.left, a.top); ctx.lineTo(a.right, a.top); ctx.lineTo(a.right, a.bottom); ctx.stroke();
        pcaColors.forEach((c, i) => {
          ctx.beginPath(); ctx.arc(232, 26 + i * 14.9, 2.6, 0, 2 * Math.PI);
          ctx.fillStyle = c; ctx.fill(); ctx.strokeStyle = "#222"; ctx.lineWidth = .6; ctx.stroke();
        });
      }),
    ],
  };
}

/* ---------- Heatmap factory ---------- */
function makeHeat(cv: Box, plot: Box, genes: string[], z: number[][], opt: { font: number; pad: number; bar: [number, number]; labelY: number; labelSize: number; title: string; titleX: number; titleY: number; titleSize: number }) {
  const f = frame(plot, cv);
  const cols = z[0].map((_, c) => c);
  return () => ({
    type: "bar",
    data: {
      labels: genes,
      datasets: cols.map((c) => ({
        data: genes.map(() => [c, c + 1]),
        backgroundColor: genes.map((_, r) => heatColor(z[r][c])),
        borderColor: "rgba(45,55,55,.72)", borderWidth: .6, borderSkipped: false,
        barPercentage: 1, categoryPercentage: 1, grouped: false,
      })),
    },
    options: {
      ...baseOpts,
      indexAxis: "y",
      layout: { padding: f.padding },
      scales: {
        x: { type: "linear", display: false, min: 0, max: 16, afterFit: fixedAxis(0, true) },
        y: {
          type: "category", afterFit: fixedAxis(f.ySize, false),
          grid: { display: false, drawTicks: false }, border: { display: false },
          ticks: { font: { size: opt.font }, autoSkip: false, padding: opt.pad, color: "#222" },
        },
      },
    },
    plugins: [
      {
        id: "groups",
        afterDraw(chart: any) {
          const { ctx, scales } = chart;
          ctx.save();
          groupNames.forEach((g, i) => {
            const x0 = scales.x.getPixelForValue(i * 4), x1 = scales.x.getPixelForValue(i * 4 + 4);
            ctx.fillStyle = groupColors[i];
            ctx.fillRect(x0, opt.bar[0] - cv.t, x1 - x0, opt.bar[1] - opt.bar[0]);
            ctx.fillStyle = "#1a1a1a";
            ctx.font = `${opt.labelSize}px ${FAMILY}`;
            ctx.textAlign = "center"; ctx.textBaseline = "middle";
            ctx.fillText(g, (x0 + x1) / 2, opt.labelY - cv.t);
          });
          ctx.restore();
        },
      },
      overlay(cv, [{ s: opt.title, x: opt.titleX, y: opt.titleY, size: opt.titleSize, align: "center" }]),
    ],
  });
}

/* ---------- Colour bar factory ---------- */
function makeCbar(cv: Box, plot: Box, lo: number, hi: number, ticks: number[], size: number) {
  const f = frame(plot, cv);
  return () => ({
    type: "bar",
    data: {
      labels: ["z"],
      datasets: [{
        data: [[lo, hi]],
        barPercentage: 1, categoryPercentage: 1, borderColor: "#333", borderWidth: 1, borderSkipped: false,
        backgroundColor: "rgba(0,0,0,0)",
      }],
    },
    options: {
      ...baseOpts,
      layout: { padding: { left: f.padding.left, top: f.padding.top, right: 0, bottom: f.padding.bottom } },
      scales: {
        x: { display: false, afterFit: fixedAxis(0, true) },
        y: {
          position: "right", min: lo, max: hi, afterFit: fixedAxis(cv.r - plot.r, false),
          afterBuildTicks: (s: any) => { s.ticks = ticks.map((value) => ({ value })); },
          grid: { drawOnChartArea: false, tickColor: "#111", tickLength: 3 }, border: { display: false },
          ticks: { font: { size }, autoSkip: false, padding: 2, color: "#222" },
        },
      },
    },
    plugins: [{
      id: "gradient",
      beforeDatasetsDraw(chart: any) {
        const { ctx, scales, chartArea: a } = chart;
        const g = ctx.createLinearGradient(0, scales.y.getPixelForValue(lo), 0, scales.y.getPixelForValue(hi));
        for (const [v] of stops) {
          const c = Math.min(hi, Math.max(lo, v));
          g.addColorStop((c - lo) / (hi - lo), heatColor(c));
        }
        ctx.save();
        ctx.fillStyle = g;
        ctx.fillRect(a.left, a.top, a.right - a.left, a.bottom - a.top);
        ctx.restore();
      },
    }],
  });
}

/* ---------- Volcano factory ---------- */
function makeVolcano(cv: Box, plot: Box, p: { xmin: number; xmax: number; ymax: number; yTicks: number[]; yCx: number; arms: number[][][]; core: number[][][]; red: number[][]; black: number[][]; blue: number[][]; texts: TextItem[]; arrows: ArrowItem[] }) {
  const f = frame(plot, cv, 641.7, 14.2, p.yCx, 14.2);
  const pts = (a: number[][]) => a.map(([x, y]) => ({ x, y }));
  const shape = (a: number[][], color: string, order: number) => ({
    data: pts([...a, a[0]]), showLine: true, fill: "shape", backgroundColor: color, borderColor: color, borderWidth: .6, pointRadius: 0, tension: 0, order,
  });
  const axis = { grid: { drawOnChartArea: false, tickColor: "#000", tickLength: 4 }, border: { color: "#000", width: 1 } };
  return () => ({
    type: "scatter",
    data: {
      datasets: [
        { data: pts(p.blue), backgroundColor: "#0a0ae0", pointRadius: 1.5, borderWidth: 0, order: 0 },
        ...p.core.map((a) => shape(a, "#000", 1)),
        { data: pts(p.red), backgroundColor: "#f01414", pointRadius: .95, borderWidth: 0, order: 2 },
        ...p.arms.map((a) => shape(a, "#f01414", 3)),
        { data: pts(p.black), backgroundColor: "#000", pointRadius: .95, borderWidth: 0, order: 4 },
      ],
    },
    options: {
      ...baseOpts,
      layout: { padding: f.padding },
      scales: {
        x: {
          ...axis, min: p.xmin, max: p.xmax, afterFit: fixedAxis(f.xSize, true),
          afterBuildTicks: (s: any) => { s.ticks = volXTicks.map((value) => ({ value })); },
          ticks: { font: { size: 10 }, maxRotation: 0, autoSkip: false, padding: 2 },
          title: { display: true, text: "Log₂ Fold change", font: { size: 11.8 }, padding: 0 },
        },
        y: {
          ...axis, min: 0, max: p.ymax, afterFit: fixedAxis(f.ySize, false),
          afterBuildTicks: (s: any) => { s.ticks = p.yTicks.map((value) => ({ value })); },
          ticks: { font: { size: 10 }, autoSkip: false, padding: 2 },
          title: { display: true, text: "-Log FDR", font: { size: 11.8 }, padding: 0 },
        },
      },
    },
    plugins: [overlay(cv, p.texts, p.arrows)],
  });
}

/* ---------- Bar factory ---------- */
function makeBars(cv: Box, plot: Box, p: { cats: string[]; vals: number[]; fills: string[]; edges: string[]; ticks: number[]; max: number; title: string; titleX: number; titleY: number; xTitleX: number }) {
  const f = frame(plot, cv, 840, 13.2);
  return () => ({
    type: "bar",
    data: {
      labels: p.cats,
      datasets: [{ data: p.vals, backgroundColor: p.fills, borderColor: p.edges, borderWidth: 1.5, borderSkipped: false, barThickness: 8.5 }],
    },
    options: {
      ...baseOpts,
      indexAxis: "y",
      layout: { padding: f.padding },
      scales: {
        x: {
          type: "linear", min: 0, max: p.max, afterFit: fixedAxis(f.xSize, true),
          afterBuildTicks: (s: any) => { s.ticks = p.ticks.map((value) => ({ value })); },
          grid: { drawOnChartArea: false, tickColor: "#000", tickLength: 4 }, border: { color: "#000", width: 1 },
          ticks: { font: { size: 10, weight: "bold" }, maxRotation: 0, autoSkip: false, padding: 5, color: "#000" },
        },
        y: {
          type: "category", afterFit: fixedAxis(f.ySize, false),
          grid: { drawOnChartArea: false, tickColor: "#000", tickLength: 6 }, border: { color: "#000", width: 1 },
          ticks: { font: { size: 10.7 }, autoSkip: false, padding: 2, color: "#1a1a1a" },
        },
      },
    },
    plugins: [overlay(cv, [
      { s: p.title, x: p.titleX, y: p.titleY, size: 12, align: "center" },
      { s: "-Log10 FDR", x: p.xTitleX, y: 840, size: 11.6, align: "center" },
    ])],
  });
}

/* ---------- Layout instances ---------- */
const boxB: Box = { l: 460, t: 0, r: 686, b: 465 };
const heatB = makeHeat(boxB, { l: 522, t: 41, r: 680, b: 459 }, genesB, zB, { font: 7.4, pad: 4, bar: [29.3, 37], labelY: 21.5, labelSize: 10, title: "Top 40 genes", titleX: 602, titleY: 7.5, titleSize: 11 });
const boxC: Box = { l: 0, t: 212, r: 182, b: 465 };
const heatC = makeHeat(boxC, { l: 47.7, t: 248.3, r: 178.3, b: 459 }, genesC, zC, { font: 7.3, pad: 2.6, bar: [239.3, 245.7], labelY: 234.3, labelSize: 9.6, title: "De novo lipogenesis", titleX: 121.7, titleY: 220.7, titleSize: 12 });
const boxD: Box = { l: 240, t: 212, r: 422, b: 465 };
const heatD = makeHeat(boxD, { l: 288.3, t: 250, r: 418, b: 459 }, genesD, zD, { font: 7.3, pad: 1.4, bar: [240, 246.7], labelY: 234.7, labelSize: 9.6, title: "Fatty acid oxidation", titleX: 358, titleY: 220.7, titleSize: 12 });

const boxCb: Box = { l: 688, t: 34, r: 730, b: 465 };
const cbarB = makeCbar(boxCb, { l: 692, t: 41, r: 705, b: 458 }, -2.02, 2.07, [-2, -1, 0, 1, 2], 8.5);
const boxCc: Box = { l: 184, t: 242, r: 222, b: 465 };
const cbarC = makeCbar(boxCc, { l: 188.7, t: 248, r: 200, b: 458 }, -1.96, 2.2, [-1, 0, 1, 2], 7);
const boxCd: Box = { l: 424, t: 242, r: 462, b: 465 };
const cbarD = makeCbar(boxCd, { l: 428.7, t: 250, r: 439.3, b: 459 }, -1.88, 2.24, [-1, 0, 1, 2], 7);

const plotE: Box = { l: 41.3, t: 486.7, r: 171, b: 616 };
const boxE: Box = { l: 10, t: 474, r: 186, b: 650 };
const volE = makeVolcano(boxE, plotE, {
  xmin: -10, xmax: 10, ymax: 12, yTicks: yTicksE, yCx: 21, arms: armsE, core: coreE, red: redE, black: blackE, blue: blueE,
  texts: [
    { s: "LFD vs HFD", x: 105, y: 481, align: "center" },
    { s: "Bdh1", x: 140, y: 509.5, size: 11.5 },
    { s: "Gk", x: 66.7, y: 519, size: 11.5 },
    { s: "Apoa4", x: 148.3, y: 521, size: 11.5 },
  ],
  arrows: [
    { x1: 101.7, y1: 491, x2: 50, y2: 491, black: true }, { x1: 111.7, y1: 491, x2: 163, y2: 491, black: true },
    { x1: 135.7, y1: 510, x2: 119.3, y2: 510 }, { x1: 87.7, y1: 519, x2: 104.3, y2: 519 }, { x1: 145, y1: 519.5, x2: 128.3, y2: 519.5 },
  ],
});
const plotF: Box = { l: 225.3, t: 486.7, r: 355.3, b: 616 };
const boxF: Box = { l: 195, t: 474, r: 372, b: 650 };
const volF = makeVolcano(boxF, plotF, {
  xmin: -10, xmax: 10, ymax: 15, yTicks: yTicksF, yCx: 205.7, arms: armsF, core: coreF, red: redF, black: blackF, blue: blueF,
  texts: [
    { s: "HFD  vs  siRNA", x: 297.7, y: 484, align: "center" },
    { s: "Khk", x: 287.3, y: 510.7, size: 11.5 },
    { s: "Gapdh", x: 308.7, y: 549, size: 11.5 },
    { s: "Acc2", x: 231, y: 559, size: 11.5 },
    { s: "Scd1", x: 230, y: 568.3, size: 11.5 },
  ],
  arrows: [
    { x1: 290, y1: 492.3, x2: 238.3, y2: 492.3, black: true }, { x1: 300, y1: 492.3, x2: 351.7, y2: 492.3, black: true },
    { x1: 283.3, y1: 510.3, x2: 266.7, y2: 510.3 }, { x1: 306, y1: 548.3, x2: 290, y2: 548.3 },
    { x1: 260, y1: 558.3, x2: 276.7, y2: 558.3 }, { x1: 259.3, y1: 567.7, x2: 274, y2: 567.7 },
  ],
});
const plotG: Box = { l: 422, t: 486.7, r: 551.7, b: 616 };
const boxG: Box = { l: 390, t: 474, r: 565, b: 650 };
const volG = makeVolcano(boxG, plotG, {
  xmin: -10, xmax: 10, ymax: 18, yTicks: yTicksG, yCx: 399.3, arms: armsG, core: coreG, red: redG, black: blackG, blue: blueG,
  texts: [
    { s: "HFD  vs  Inhib", x: 487.3, y: 483.3, align: "center" },
    { s: "Acox1", x: 442.7, y: 507.3, size: 11.5 },
    { s: "Ehahdh", x: 506.7, y: 510.7, size: 11.5 },
    { s: "Acot2", x: 459.3, y: 526.7, size: 11.5 },
    { s: "Apoa4", x: 424.3, y: 543.3, size: 11.5 },
  ],
  arrows: [
    { x1: 481, y1: 491.7, x2: 429.3, y2: 491.7, black: true }, { x1: 490.7, y1: 491.7, x2: 542.3, y2: 491.7, black: true },
    { x1: 478.3, y1: 507, x2: 494.3, y2: 507 }, { x1: 492.3, y1: 526.3, x2: 508.3, y2: 526.3 },
  ],
});
const plotH: Box = { l: 610, t: 486.7, r: 739, b: 616 };
const boxH: Box = { l: 578, t: 474, r: 745, b: 650 };
const volH = makeVolcano(boxH, plotH, {
  xmin: -11, xmax: 11, ymax: 18, yTicks: yTicksG, yCx: 586.7, arms: armsH, core: coreH, red: redH, black: blackH, blue: blueH,
  texts: [
    { s: "siRNA vs Inhib", x: 675.7, y: 482.7, align: "center" },
    { s: "Acox1", x: 627.3, y: 505.7, size: 11.5 },
    { s: "Ehahdh", x: 693.3, y: 504.3, size: 11.5 },
    { s: "Acot2", x: 646.7, y: 523.3, size: 11.5 },
    { s: "Khk", x: 720.7, y: 543.3, size: 11.5 },
  ],
  arrows: [
    { x1: 669, y1: 491.7, x2: 617.3, y2: 491.7, black: true }, { x1: 679, y1: 491.7, x2: 730.7, y2: 491.7, black: true },
    { x1: 662.7, y1: 505.7, x2: 680, y2: 505.7 }, { x1: 680, y1: 523, x2: 696.7, y2: 523 }, { x1: 716.7, y1: 544, x2: 699.3, y2: 544 },
  ],
});

const boxI: Box = { l: 0, t: 660, r: 372, b: 847 };
const barsI = makeBars(boxI, { l: 151.7, t: 674.7, r: 361.7, b: 811.7 }, { cats: catsI, vals: valsI, fills: fillsI, edges: edgesI, ticks: ticksI, max: 12.07, title: "siRNA vs HFD", titleX: 241.7, titleY: 669, xTitleX: 256.7 });
const boxJ: Box = { l: 400, t: 660, r: 741, b: 847 };
const barsJ = makeBars(boxJ, { l: 541, t: 675, r: 721.7, b: 812.3 }, { cats: catsJ, vals: valsJ, fills: fillsJ, edges: edgesJ, ticks: ticksJ, max: 6.97, title: "Inhib vs HFD", titleX: 626, titleY: 670, xTitleX: 640 });

const panelLetters: [string, number, number][] = [
  ["A", 5, 12], ["B", 473, 9], ["C", 5, 223], ["D", 248, 222], ["E", 3, 488],
  ["F", 188, 486], ["G", 383, 485], ["H", 573, 486], ["I", 5, 677], ["J", 398, 679],
];

const charts: [Box, () => any][] = [
  [boxA, makeA], [boxB, heatB], [boxCb, cbarB], [boxC, heatC], [boxCc, cbarC], [boxD, heatD], [boxCd, cbarD],
  [boxE, volE], [boxF, volF], [boxG, volG], [boxH, volH], [boxI, barsI], [boxJ, barsJ],
];

export default function App() {
  return (
    <div style={{ position: "absolute", left: 0, top: 0, width: 741, height: 847, overflow: "hidden", background: "#fff" }}>
      {charts.map(([b, m], i) => <Canvas key={i} box={b} make={m} />)}
      {panelLetters.map(([s, x, y]) => (
        <div key={s} style={{ position: "absolute", left: x, top: y - 8, lineHeight: "16px", fontFamily: FAMILY, fontWeight: 900, fontSize: 14, color: "#000" }}>{s}</div>
      ))}
    </div>
  );
}
